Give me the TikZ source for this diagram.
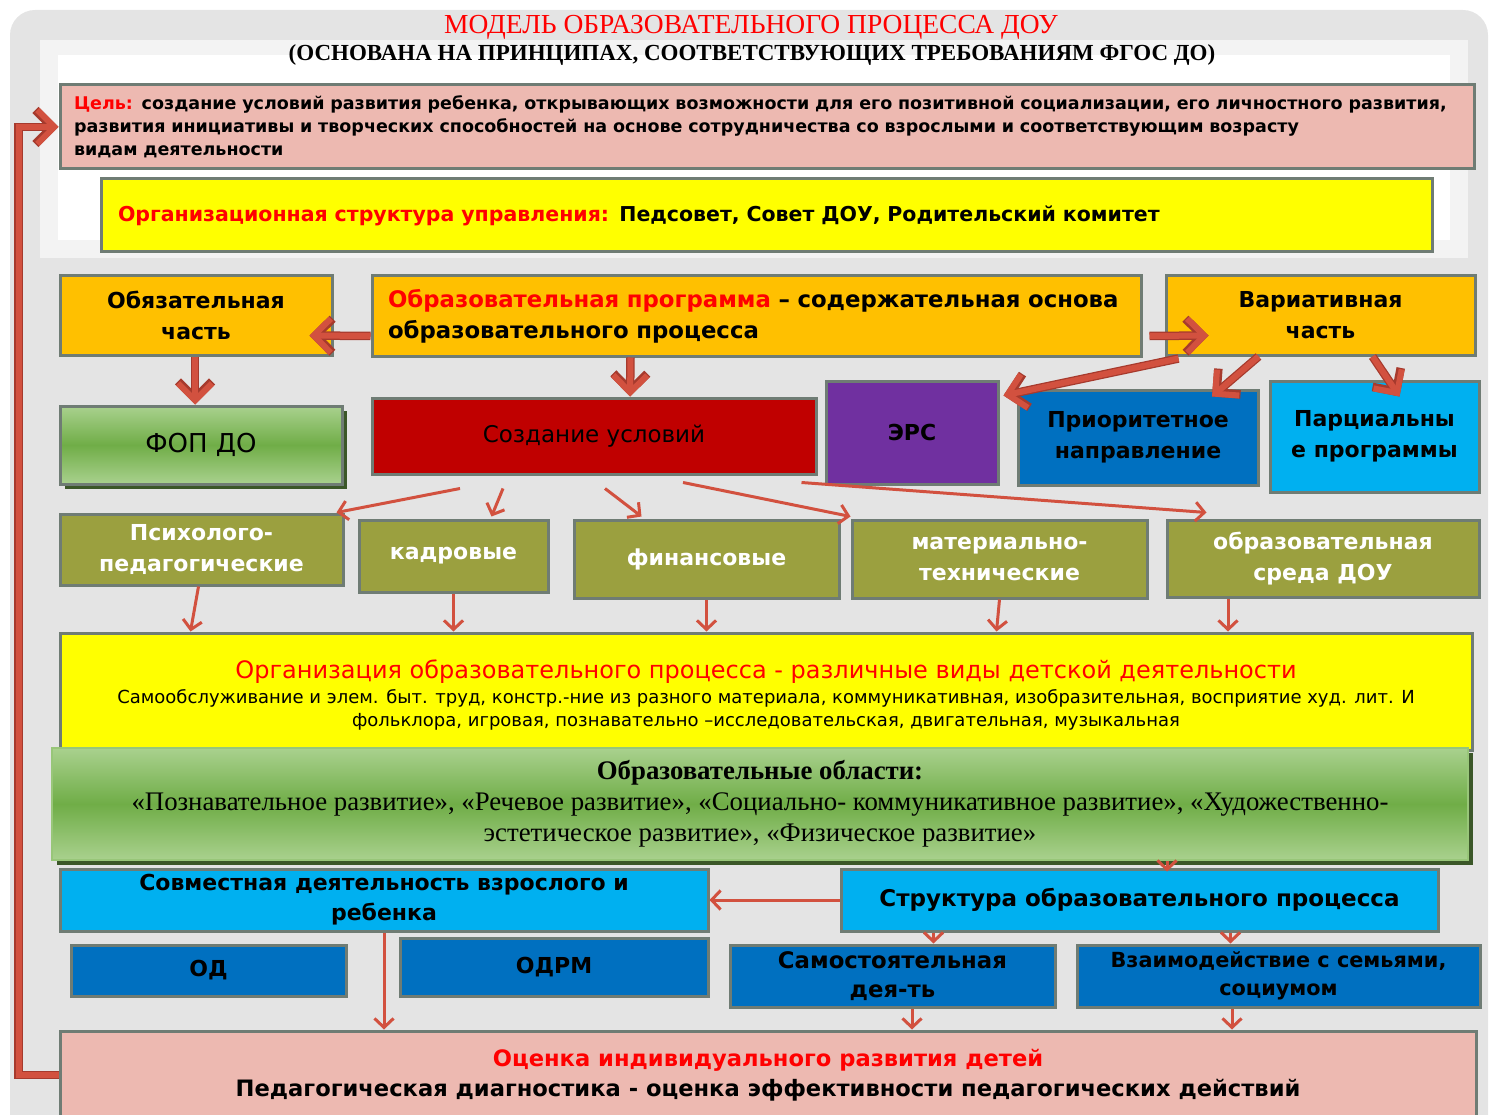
\documentclass[tikz,border=0pt]{standalone}
\usepackage{fontspec}
\setmainfont{Liberation Serif}
\setsansfont{DejaVu Sans}
\usetikzlibrary{arrows.meta, shadows}
\definecolor{bg}{HTML}{E4E4E4}
\definecolor{frame}{HTML}{6F7C74}
\definecolor{pinkbox}{HTML}{EDB9B1}
\definecolor{orangebox}{HTML}{FFC000}
\definecolor{redbox}{HTML}{C00000}
\definecolor{purplebox}{HTML}{7030A0}
\definecolor{bluebox}{HTML}{0070C0}
\definecolor{cyanbox}{HTML}{00B0F0}
\definecolor{olivebox}{HTML}{9BA03F}
\definecolor{greenlight}{HTML}{A9D18E}
\definecolor{greendark}{HTML}{70AD47}
\definecolor{greenshadow}{HTML}{3B5728}
\definecolor{arrowred}{HTML}{D2513F}
\definecolor{arrowdark}{HTML}{A63A2D}
\definecolor{textred}{HTML}{FF0000}
\definecolor{yellowbox}{HTML}{FFFF00}
\begin{document}
\begin{tikzpicture}[x=1pt, y=-1pt,
  box/.style={draw=frame, line width=3pt, inner sep=0pt, align=center, font=\sffamily\bfseries\fontsize{22}{31}\selectfont},
  olive/.style={box, fill=olivebox, text=white},
  greenbox/.style={box, top color=greenlight, bottom color=greenlight, middle color=greendark, drop shadow={shadow xshift=5pt, shadow yshift=-5pt, fill=greenshadow, opacity=1}},
  bigarrow/.style={line width=6pt, arrowred, -{Straight Barb[length=17pt, width=34pt]}, preaction={draw=arrowdark, line width=8.5pt, -{Straight Barb[length=17pt, width=34pt]}}},
  thinarrow/.style={line width=3pt, arrowred, -{Straight Barb[length=9pt, width=19pt]}}]
	\useasboundingbox (0,0) rectangle (1491,1115);
	\fill[bg, rounded corners=25pt] (10,10) rectangle (1488,1145);
	\fill[white!55!bg] (40,40) rectangle (1468,258);
	\fill[white] (58,55) rectangle (1450,240);

	\node [font=\fontsize{27.5}{29}\selectfont, text=textred] (title) at (751,27) {МОДЕЛЬ ОБРАЗОВАТЕЛЬНОГО ПРОЦЕССА ДОУ};
	\node [font=\bfseries\fontsize{23}{25}\selectfont] (subtitle) at (752,55) {(ОСНОВАНА НА ПРИНЦИПАХ, СООТВЕТСТВУЮЩИХ ТРЕБОВАНИЯМ ФГОС ДО)};

	\node [box, fill=pinkbox, minimum width=1414pt, minimum height=84pt, text width=1386pt, align=left, font=\sffamily\bfseries\fontsize{17.5}{23}\selectfont] (goal) at (767,127) {\textcolor{textred}{Цель:} создание условий развития ребенка, открывающих возможности для его позитивной социализации, его личностного развития,\\ развития инициативы и творческих способностей на основе сотрудничества со взрослыми и соответствующим возрасту\\ видам деятельности};
	\node [box, fill=yellowbox, minimum width=1331pt, minimum height=73pt, text width=1297pt, align=left, font=\sffamily\bfseries\fontsize{20.5}{26}\selectfont] (orgstr) at (766.5,215.5) {\textcolor{textred}{Организационная структура управления:} Педсовет, Совет ДОУ, Родительский комитет};

	\node [box, fill=orangebox, minimum width=272pt, minimum height=79pt] (mand) at (196,315.5) {Обязательная\\ часть};
	\node [box, fill=orangebox, minimum width=769pt, minimum height=80pt, text width=737pt, align=left, font=\sffamily\bfseries\fontsize{22.8}{31}\selectfont] (prog) at (756.5,316) {\textcolor{textred}{Образовательная программа} – содержательная основа\\ образовательного процесса};
	\node [box, fill=orangebox, minimum width=309pt, minimum height=79pt] (var) at (1320.5,315.5) {Вариативная\\ часть};

	\node [greenbox, minimum width=282pt, minimum height=78pt, font=\sffamily\fontsize{26}{30}\selectfont] (fop) at (201,445) {ФОП ДО};
	\node [box, fill=redbox, minimum width=444pt, minimum height=76pt, font=\sffamily\fontsize{23}{28}\selectfont] (cond) at (594,436) {Создание условий};
	\node [box, fill=purplebox, minimum width=172pt, minimum height=103pt] (ers) at (912,432.5) {ЭРС};
	\node [box, fill=bluebox, minimum width=240pt, minimum height=95pt] (prior) at (1138,437.5) {Приоритетное\\ направление};
	\node [box, fill=cyanbox, minimum width=209pt, minimum height=111pt] (part) at (1374.5,436.5) {Парциальны\\ е программы};

	\node [olive, minimum width=283pt, minimum height=71pt] (psy) at (201.5,549.5) {Психолого-\\ педагогические};
	\node [olive, minimum width=189pt, minimum height=72pt] (staff) at (453.5,556) {кадровые};
	\node [olive, minimum width=265pt, minimum height=78pt] (fin) at (706.5,559) {финансовые};
	\node [olive, minimum width=295pt, minimum height=78pt] (mat) at (999.5,559) {материально-\\ технические};
	\node [olive, minimum width=312pt, minimum height=77pt] (env) at (1323,558.5) {образовательная\\ среда ДОУ};

	\node [box, fill=yellowbox, minimum width=1412pt, minimum height=117pt, font=\sffamily\fontsize{18}{23}\selectfont] (orgproc) at (766,691.5) {\mbox{}\\[3pt] {\fontsize{24}{26}\selectfont\textcolor{textred}{Организация образовательного процесса - различные виды детской деятельности}}\\[2pt] Самообслуживание и элем. быт. труд, констр.-ние из разного материала, коммуникативная, изобразительная, восприятие худ. лит. И\\ фольклора, игровая, познавательно –исследовательская, двигательная, музыкальная};
	\node [greenbox, draw=greenlight!70!greendark, line width=2pt, minimum width=1416pt, minimum height=112pt, font=\rmfamily\fontsize{26.8}{31}\selectfont] (areas) at (760,804) {\textbf{Образовательные области:}\\ «Познавательное развитие», «Речевое развитие», «Социально- коммуникативное развитие», «Художественно-\\ эстетическое развитие», «Физическое развитие»};

	\node [box, fill=cyanbox, minimum width=648pt, minimum height=62pt, font=\sffamily\bfseries\fontsize{22}{30}\selectfont] (joint) at (384,900) {Совместная деятельность взрослого и\\ ребенка};
	\node [box, fill=cyanbox, minimum width=597pt, minimum height=62pt, font=\sffamily\bfseries\fontsize{23}{30}\selectfont] (struct) at (1139.5,900) {Структура образовательного процесса};
	\node [box, fill=bluebox, minimum width=275pt, minimum height=51pt] (od) at (208.5,970.5) {ОД};
	\node [box, fill=bluebox, minimum width=308pt, minimum height=58pt] (odrm) at (554,967) {ОДРМ};
	\node [box, fill=bluebox, minimum width=325pt, minimum height=62pt, font=\sffamily\bfseries\fontsize{22.8}{29}\selectfont] (indep) at (892.5,976) {Самостоятельная\\ дея-ть};
	\node [box, fill=bluebox, minimum width=403pt, minimum height=62pt, font=\sffamily\bfseries\fontsize{20.8}{28}\selectfont] (family) at (1278.5,976) {Взаимодействие с семьями,\\ социумом};
	\node [box, fill=pinkbox, minimum width=1416pt, minimum height=88pt, font=\sffamily\bfseries\fontsize{22.6}{30}\selectfont] (eval) at (768,1075) {\textcolor{textred}{Оценка индивидуального развития детей}\\ Педагогическая диагностика - оценка эффективности педагогических действий};

	\draw[bigarrow] ([yshift=-20pt]prog.west) -- ([xshift=-24pt, yshift=-20pt]mand.east);
	\draw[bigarrow] ([xshift=7pt, yshift=-20pt]prog.east) -- ([xshift=44pt, yshift=-20pt]var.west);
	\draw[bigarrow] ([xshift=-1pt]mand.south) -- ([xshift=-6pt]fop.north);
	\draw[bigarrow] ([xshift=-126pt]prog.south) -- ([xshift=36pt]cond.north);
	\draw[bigarrow] ([xshift=14pt, yshift=-2pt]var.south west) -- ([xshift=4pt, yshift=-16pt]ers.north east);
	\draw[bigarrow] ([xshift=-62pt]var.south) -- ([xshift=74pt, yshift=-8pt]prior.north);
	\draw[bigarrow] ([xshift=52pt]var.south) -- ([xshift=25pt, yshift=-17pt]part.north);
	\draw[bigarrow] (eval.west) -- ++(-40,0) |- (goal.west);

	\path[thinarrow] ([xshift=-134pt, yshift=-13pt]cond.south) edge ([xshift=-8pt]psy.north east);
	\path[thinarrow] ([xshift=-91pt, yshift=-13pt]cond.south) edge ([xshift=38pt, yshift=2pt]staff.north);
	\path[thinarrow] ([xshift=11pt, yshift=-13pt]cond.south) edge ([xshift=-65pt, yshift=2pt]fin.north);
	\path[thinarrow] ([xshift=89pt, yshift=-7pt]cond.south) edge ([yshift=2pt]mat.north west);
	\path[thinarrow] ([xshift=-16pt, yshift=-7pt]cond.south east) edge ([xshift=41pt, yshift=6pt]env.north west);
	\path[thinarrow] ([xshift=-3pt]psy.south) edge ([xshift=-11pt]psy.south |- orgproc.north);
	\path[thinarrow] (staff.south) edge (staff.south |- orgproc.north);
	\path[thinarrow] (fin.south) edge (fin.south |- orgproc.north);
	\path[thinarrow] (mat.south) edge ([xshift=-3pt]mat.south |- orgproc.north);
	\path[thinarrow] ([xshift=-95pt]env.south) edge ([xshift=-95pt]env.south |- orgproc.north);
	\path[thinarrow] ([xshift=27.5pt]struct.north |- areas.south) edge ([xshift=27.5pt, yshift=-4pt]struct.north);
	\path[thinarrow] (struct.west) edge (joint.east);
	\path[thinarrow] ([xshift=94pt]struct.south west) edge ([xshift=94pt]struct.south west |- indep.north);
	\path[thinarrow] ([xshift=391pt]struct.south west) edge ([xshift=391pt]struct.south west |- family.north);
	\path[thinarrow] ([xshift=19.5pt]indep.south) edge ([xshift=19.5pt]indep.south |- eval.north);
	\path[thinarrow] ([xshift=-46.5pt]family.south) edge ([xshift=-46.5pt]family.south |- eval.north);
	\path[thinarrow] (joint.south) edge (joint.south |- eval.north);
\end{tikzpicture}
\end{document}
